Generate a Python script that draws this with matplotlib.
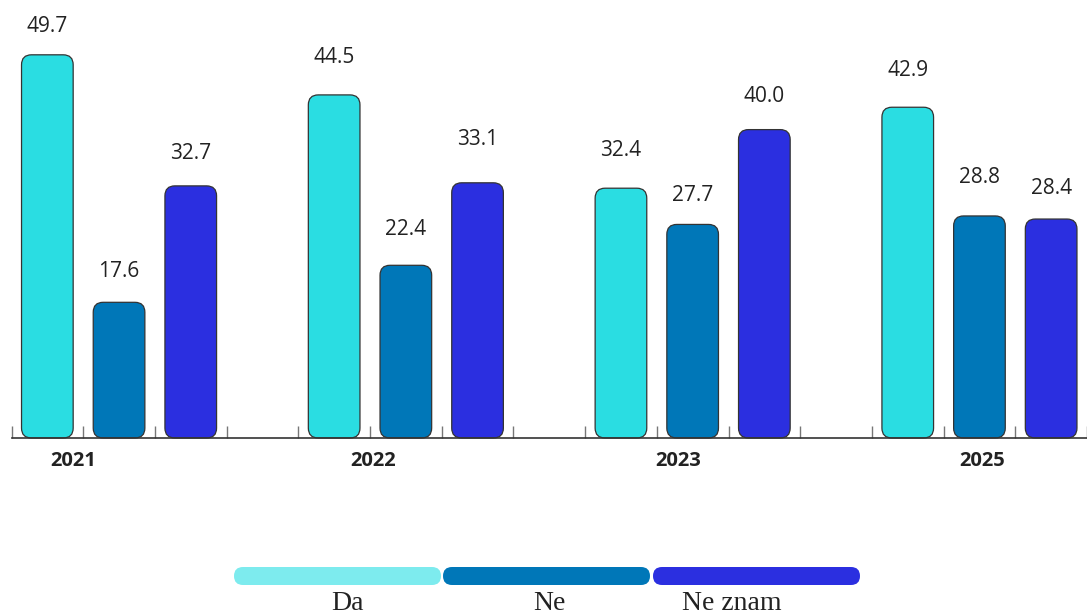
import matplotlib.pyplot as plt
from matplotlib.patches import FancyBboxPatch

# Podaci
years = ["2021", "2022", "2023", "2025"]
series = ["Da", "Ne", "Ne znam"]
da = [49.7, 44.5, 32.4, 42.9]
ne = [17.6, 22.4, 27.7, 28.8]
ne_znam = [32.7, 33.1, 40.0, 28.4]

colors = ["#2ADDE2", "#0077B8", "#2B2FE0"]
legend_colors = ["#7DEBEE", "#0077B8", "#2B2FE0"]

# razmak natpisa iznad stupca (pikseli), po seriji pa po godini
lift = [[28, 37, 38, 37],
        [31, 36, 29, 38],
        [32, 43, 33, 31]]

W, H = 1087, 614
fig = plt.figure(figsize=(W / 100, H / 100), dpi=100)

# glavna os, u pikselima: os x od 11 do 1087, osnovica na y=438
px_x = 72.2    # piksela po slotu
px_y = 7.71    # piksela po jedinici
x0 = 11.5
ax = fig.add_axes([x0 / W, (H - 438) / H, (W - x0) / W, 438 / H])
ax.set_xlim(-0.5, -0.5 + (W - x0) / px_x)
ax.set_ylim(0, 438 / px_y)

bar_w = 52 / px_x
r = 10  # radijus zaobljenja u pikselima
values = [da, ne, ne_znam]
for g in range(len(years)):
    for s in range(3):
        x = g * 4 + s
        v = values[s][g]
        p = FancyBboxPatch((x - bar_w / 2, 0), bar_w, v,
                           boxstyle=f"round,pad=0,rounding_size={r / px_x}",
                           mutation_aspect=px_x / px_y,
                           facecolor=colors[s], edgecolor="#333333",
                           linewidth=0.9, clip_on=False)
        ax.add_patch(p)
        ax.text(x, v + lift[s][g] / px_y, f"{v:.1f}", ha="center", va="center",
                fontsize=15, color="#222222", family="Open Sans")

# podjele osi
ax.set_xticks([i - 0.5 for i in range(16)])
ax.set_xticklabels([])
ax.tick_params(axis="x", direction="in", length=9, color="#777777", width=1)
ax.set_yticks([])
for sp in ["top", "right", "left"]:
    ax.spines[sp].set_visible(False)
ax.spines["bottom"].set_color("#333333")
ax.spines["bottom"].set_linewidth(1.2)

# oznake godina
year_px = [73, 373, 678, 982]
for yr, xp in zip(years, year_px):
    fig.text(xp / W, 1 - 461 / H, yr, ha="center", va="center",
             fontsize=14.5, fontweight="bold", color="#222222", family="Open Sans")

# legenda
lax = fig.add_axes([0, 0, 1, 1])
lax.set_xlim(0, W)
lax.set_ylim(H, 0)
lax.axis("off")
lx = [234, 443, 653]
lw = 207
for i, name in enumerate(series):
    p = FancyBboxPatch((lx[i], 567), lw, 18,
                       boxstyle="round,pad=0,rounding_size=9",
                       facecolor=legend_colors[i], edgecolor="none")
    lax.add_patch(p)
text_px = [347, 549, 732]
for name, xp in zip(series, text_px):
    lax.text(xp, 603, name, ha="center", va="center", fontsize=20,
             family="Liberation Serif", color="#222222")

fig.savefig("out.png", dpi=100)
